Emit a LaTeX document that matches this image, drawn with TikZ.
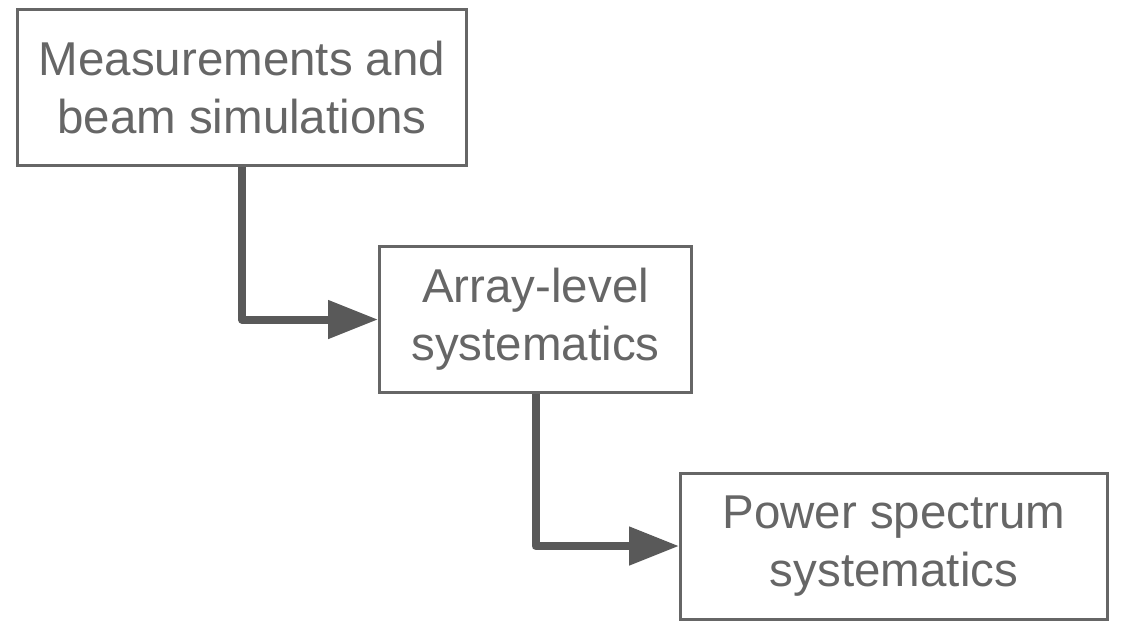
\documentclass[tikz,border=0pt]{standalone}
\usepackage{fontspec}
\setmainfont{Liberation Sans}
\usetikzlibrary{arrows.meta}
\definecolor{boxgray}{HTML}{666666}
\definecolor{arrowgray}{HTML}{595959}
\begin{document}
\begin{tikzpicture}[x=1pt,y=-1pt,
	box/.style={draw=boxgray,line width=3pt,inner sep=0pt,align=center,text=boxgray,
		font=\fontsize{47.5}{58}\selectfont},
	conn/.style={draw=arrowgray,line width=8pt,line join=round,
		-{Triangle[length=50pt,width=37pt]}}]
	\useasboundingbox (0,0) rectangle (1122,622);
	\node[box,minimum width=449pt,minimum height=156pt] (meas) at (242,87.5) {Measurements and\\beam simulations};
	\node[box,minimum width=312pt,minimum height=146pt] (array) at (535.5,319.5) {Array-level\\systematics};
	\node[box,minimum width=427pt,minimum height=146pt] (power) at (894,546) {Power spectrum\\systematics};
	\draw[conn] (meas.south) |- (array.west);
	\draw[conn] (array.south) |- (power.west);
\end{tikzpicture}
\end{document}
